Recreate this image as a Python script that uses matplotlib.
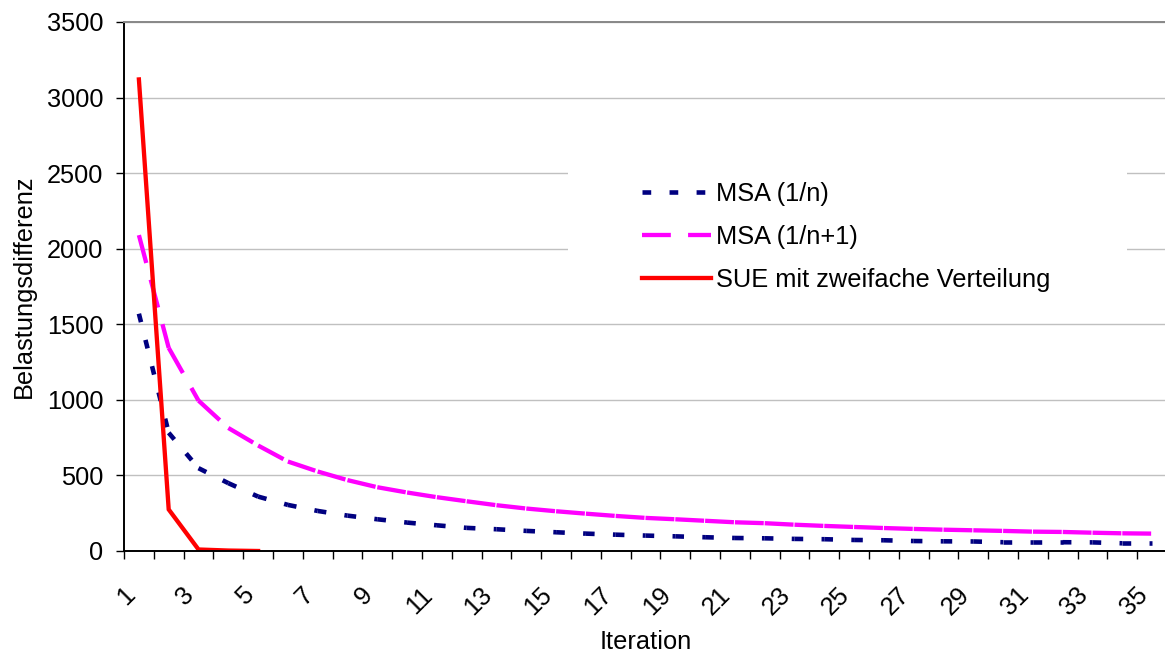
import numpy as np
import matplotlib
matplotlib.use('Agg')
import matplotlib.pyplot as plt
from matplotlib.collections import LineCollection
from matplotlib.lines import Line2D
from matplotlib.patches import Rectangle
from matplotlib.transforms import ScaledTranslation

plt.rcParams['font.family'] = ['Liberation Sans', 'DejaVu Sans']
FS = 18.3

# Belastungsdifferenz je Iteration
iterations = list(range(1, 36))
msa_1n = [1570, 782, 548, 449, 360, 305, 265, 234, 210, 188, 170, 153, 144, 133, 124,
          115, 108, 102, 97, 91, 86, 84, 80, 78, 73, 71, 66, 64, 63, 58, 58, 58, 57, 51, 51]
msa_1n1 = [2090, 1344, 995, 814, 698, 592, 526, 469, 422, 387, 356, 329, 303, 281, 263,
           247, 232, 219, 210, 200, 190, 184, 174, 166, 159, 152, 146, 141, 137, 133,
           128, 126, 121, 117, 115]
sue_iter = [1, 2, 3, 4, 5]
sue = [3120, 275, 10, 3, 0]

labels = ['MSA (1/n)', 'MSA (1/n+1)', 'SUE mit zweifache Verteilung']
NAVY, MAGENTA, RED = '#000080', '#ff00ff', '#ff0000'
LW = 3.1
NAVY_DASH = (0, (1.9, 4.0))
MAG_DASH = (0, (6.7, 4.0))

fig = plt.figure(figsize=(11.65, 6.53), dpi=100)
ax = fig.add_axes([124 / 1165, 1 - 551 / 653, 1043 / 1165, 529 / 653])


def segments(x, y):
    # jedes Teilstück einzeln, damit das Strichmuster an jedem Punkt neu beginnt
    pts = np.column_stack([x, y])
    return np.stack([pts[:-1], pts[1:]], axis=1)


ax.add_collection(LineCollection(segments(iterations, msa_1n), colors=NAVY,
                                 linewidths=LW + 0.2, linestyles=NAVY_DASH, zorder=2))
ax.add_collection(LineCollection(segments(iterations, msa_1n1), colors=MAGENTA,
                                 linewidths=LW, linestyles=MAG_DASH, zorder=2.1))
ax.plot(sue_iter, sue, color=RED, lw=LW, zorder=2.2, solid_joinstyle='miter')

ax.set_xlim(0.5, 35.5)
ax.set_ylim(0, 3500)
ax.set_yticks(np.arange(0, 3501, 500))
ax.set_xticks(iterations)
ax.set_xticklabels([str(i) if i % 2 else '' for i in iterations],
                   rotation=45, ha='right', va='center', rotation_mode='anchor')
ax.set_xticks(np.arange(0.5, 36, 1), minor=True)
ax.tick_params(axis='x', which='major', length=0, pad=29, labelsize=FS)
ax.tick_params(axis='x', which='minor', length=6, width=1.0, color='black', direction='out')
ax.tick_params(axis='y', length=6, width=1.0, color='black', pad=9.0, labelsize=FS)
for lab in ax.get_xticklabels():
    lab.set_transform(lab.get_transform() + ScaledTranslation(-0.08, 0, fig.dpi_scale_trans))

ax.yaxis.grid(True, color='#c0c0c0', lw=1.0)
ax.set_axisbelow(True)
ax.spines['right'].set_visible(False)
ax.spines['top'].set_color('#888888')
ax.spines['top'].set_linewidth(1.4)
ax.spines['left'].set_linewidth(1.4)
ax.spines['bottom'].set_linewidth(1.4)

ax.set_xlabel('Iteration', fontsize=FS)
ax.set_ylabel('Belastungsdifferenz', fontsize=FS)
ax.xaxis.set_label_coords(0.5, -0.150)
ax.yaxis.set_label_coords(-0.0844, 0.5)

# weißer Legendenhintergrund ohne Rahmen
ax.add_patch(Rectangle((0.4257, 0.47), 0.536, 0.27, transform=ax.transAxes,
                       facecolor='white', edgecolor='none', zorder=1))
handles = [Line2D([], [], color=NAVY, lw=LW + 0.2, linestyle=NAVY_DASH),
           Line2D([], [], color=MAGENTA, lw=LW, linestyle=MAG_DASH),
           Line2D([], [], color=RED, lw=LW)]
ax.legend(handles, labels, loc='upper left', bbox_to_anchor=(0.4966, 0.698),
          frameon=False, fontsize=FS, handlelength=2.7, handletextpad=0.2,
          labelspacing=0.75, borderpad=0, borderaxespad=0)

fig.savefig('out.png', dpi=100)
